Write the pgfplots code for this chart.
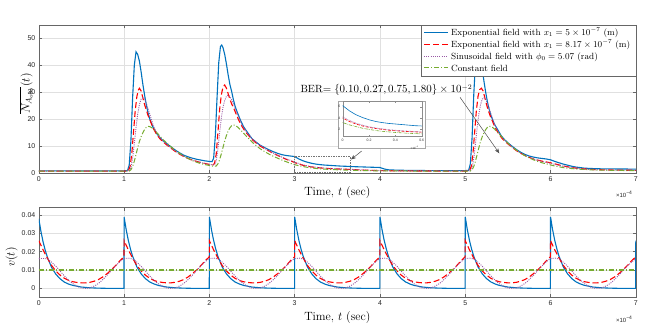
\documentclass[border=0pt]{standalone}
\usepackage{pgfplots}
\pgfplotsset{compat=1.18}
\usepackage{pgfplotstable}
\usepackage{fontspec}
\newfontfamily\tickfont{Liberation Sans}
\usetikzlibrary{arrows.meta}
\definecolor{mblue}{rgb}{0,0.447,0.741}
\definecolor{mpurple}{rgb}{0.494,0.184,0.556}
\definecolor{mgreen}{rgb}{0.466,0.674,0.188}

\pgfplotstableread{
t y
0 0.9
0.5 0.9
1.00 0.9
1.04 1.0
1.06 3
1.08 12
1.10 28
1.12 40
1.14 45
1.16 44
1.18 41.5
1.20 37.5
1.22 33
1.24 29
1.26 25.5
1.28 22.5
1.30 20.2
1.34 17
1.38 14.8
1.42 13.2
1.46 12
1.50 11
1.55 9.8
1.60 8.6
1.65 7.6
1.70 6.7
1.75 6.1
1.80 5.6
1.85 5.2
1.90 4.9
1.95 4.6
2.00 4.4
2.03 4.3
2.05 5.5
2.07 14
2.09 28
2.11 41
2.13 47
2.145 47.5
2.16 46.5
2.18 44
2.20 40.5
2.22 36.5
2.24 33
2.26 30.5
2.28 27.5
2.30 25
2.32 23.2
2.36 20
2.40 17.3
2.45 15
2.50 12.8
2.55 11.5
2.60 10.3
2.65 9.5
2.70 8.7
2.75 8
2.80 7.4
2.85 6.9
2.90 6.6
2.95 6.4
3.00 6.2
3.05 5.3
3.10 4.6
3.15 4.1
3.20 3.7
3.25 3.4
3.30 3.2
3.35 3.05
3.40 2.95
3.45 2.85
3.50 2.75
3.55 2.65
3.60 2.6
3.70 2.45
3.80 2.35
3.90 2.25
4.00 2.15
4.05 1.6
4.10 1.3
4.20 1.15
4.40 1.05
4.60 1.0
5.00 1.0
5.04 1.1
5.06 3.5
5.08 13
5.10 29
5.12 41
5.14 46
5.16 45
5.18 42
5.20 38.5
5.22 34
5.24 30
5.26 26.5
5.28 23.8
5.30 21.5
5.34 18.3
5.38 16.2
5.42 14
5.46 12.5
5.50 11.3
5.55 10
5.60 8.8
5.65 7.8
5.70 7.0
5.75 6.4
5.80 6.0
5.85 5.7
5.90 5.5
5.95 5.3
6.00 5.0
6.05 4.4
6.10 3.9
6.15 3.4
6.20 3.0
6.25 2.6
6.30 2.3
6.40 1.9
6.50 1.75
6.60 1.65
6.80 1.6
7.00 1.55
}\tB

\pgfplotstableread{
t y
0 0.8
1.00 0.8
1.05 0.9
1.07 2.5
1.09 7
1.11 15
1.13 23
1.15 28.5
1.17 31
1.18 31.5
1.20 30.5
1.22 28
1.24 25.5
1.26 23.5
1.28 21.5
1.30 20
1.34 16.8
1.38 14.5
1.42 12.8
1.46 11.6
1.50 10.5
1.55 9.3
1.60 8.1
1.65 7.1
1.70 6.2
1.75 5.5
1.80 4.9
1.85 4.4
1.90 4.0
1.95 3.6
2.00 3.3
2.04 3.1
2.06 3.6
2.08 7
2.10 15
2.12 23.5
2.14 29
2.16 32
2.18 32.7
2.20 31.5
2.22 29.5
2.24 27.5
2.26 25.8
2.28 24.5
2.30 23
2.34 20
2.38 17.5
2.42 15.5
2.46 14
2.50 12.5
2.55 11.2
2.60 10
2.65 9.1
2.70 8.2
2.75 7.4
2.80 6.6
2.85 5.9
2.90 5.2
2.95 4.6
3.00 4.0
3.05 3.4
3.10 2.95
3.15 2.6
3.20 2.35
3.25 2.15
3.30 2.0
3.35 1.85
3.40 1.75
3.45 1.68
3.50 1.6
3.55 1.55
3.60 1.5
3.70 1.35
3.80 1.2
3.90 1.1
4.00 1.0
4.20 0.9
4.50 0.85
5.00 0.8
5.05 0.9
5.07 2.5
5.09 7
5.11 15
5.13 23
5.15 28.5
5.17 31
5.19 31.5
5.21 30.5
5.23 28
5.25 25.5
5.27 23.3
5.29 21.5
5.31 20
5.35 17
5.39 14.7
5.43 13
5.47 11.7
5.50 10.9
5.55 9.6
5.60 8.4
5.65 7.4
5.70 6.6
5.75 5.9
5.80 5.3
5.85 4.9
5.90 4.5
5.95 4.2
6.00 3.9
6.05 3.5
6.10 3.1
6.15 2.7
6.20 2.4
6.30 1.9
6.40 1.6
6.50 1.4
6.60 1.3
6.80 1.15
7.00 1.1
}\tR

\pgfplotstableread{
t y
0 0.85
1.00 0.85
1.06 0.9
1.08 2
1.10 5.5
1.12 11
1.14 17
1.16 22
1.18 25.5
1.20 27.5
1.22 28
1.24 27.5
1.26 26
1.28 24
1.30 22
1.34 18
1.38 15.2
1.42 13.2
1.46 11.8
1.50 10.7
1.55 9.4
1.60 8.2
1.65 7.2
1.70 6.3
1.75 5.5
1.80 4.9
1.85 4.4
1.90 4.0
1.95 3.6
2.00 3.3
2.06 3.1
2.08 4.5
2.10 9
2.12 15
2.14 20.5
2.16 24.5
2.18 27
2.20 28.5
2.22 29
2.24 28.5
2.26 27.3
2.28 25.8
2.30 24.2
2.34 21
2.38 18.2
2.42 16
2.46 14.3
2.50 12.8
2.55 11.4
2.60 10.2
2.65 9.2
2.70 8.3
2.75 7.5
2.80 6.7
2.85 6.0
2.90 5.4
2.95 4.8
3.00 4.2
3.05 3.6
3.10 3.1
3.15 2.75
3.20 2.45
3.25 2.25
3.30 2.1
3.35 1.95
3.40 1.85
3.45 1.75
3.50 1.68
3.55 1.62
3.60 1.55
3.70 1.4
3.80 1.25
3.90 1.12
4.00 1.02
4.20 0.92
4.50 0.88
5.00 0.85
5.06 0.9
5.08 2
5.10 5.5
5.12 11
5.14 17
5.16 22
5.18 25.5
5.20 27.5
5.22 28
5.24 27.5
5.26 26
5.28 24
5.30 22.2
5.34 18.5
5.38 15.8
5.42 13.8
5.46 12.3
5.50 11.1
5.55 9.7
5.60 8.5
5.65 7.5
5.70 6.6
5.75 5.9
5.80 5.3
5.85 4.8
5.90 4.4
5.95 4.05
6.00 3.7
6.05 3.3
6.10 2.9
6.15 2.6
6.20 2.3
6.30 1.85
6.40 1.55
6.50 1.38
6.60 1.28
6.80 1.15
7.00 1.1
}\tP

\pgfplotstableread{
t y
0 0.8
1.00 0.8
1.06 0.85
1.08 1.3
1.10 2.5
1.12 4.5
1.14 7
1.16 9.5
1.18 11.8
1.20 13.6
1.22 15
1.24 16.2
1.26 17
1.28 17.4
1.30 17.3
1.32 17
1.34 16.5
1.38 15.2
1.42 13.8
1.46 12.4
1.50 11.2
1.55 9.8
1.60 8.5
1.65 7.4
1.70 6.4
1.75 5.5
1.80 4.7
1.85 4.1
1.90 3.6
1.95 3.2
2.00 2.9
2.05 2.6
2.08 2.7
2.10 3.5
2.12 5
2.14 7.2
2.16 9.6
2.18 12
2.20 14
2.22 15.6
2.24 16.8
2.26 17.6
2.28 17.9
2.30 17.8
2.32 17.4
2.34 16.9
2.38 15.6
2.42 14.2
2.46 12.9
2.50 11.6
2.55 10.2
2.60 9.0
2.65 8.0
2.70 7.1
2.75 6.3
2.80 5.6
2.85 4.9
2.90 4.3
2.95 3.7
3.00 3.2
3.05 2.8
3.10 2.5
3.15 2.2
3.20 2.0
3.25 1.8
3.30 1.65
3.35 1.55
3.40 1.45
3.45 1.38
3.50 1.3
3.55 1.25
3.60 1.2
3.70 1.1
3.80 1.0
3.90 0.95
4.00 0.9
4.50 0.82
5.00 0.8
5.06 0.85
5.08 1.3
5.10 2.5
5.12 4.5
5.14 7
5.16 9.5
5.18 11.8
5.20 13.6
5.22 15
5.24 16.2
5.26 17
5.28 17.4
5.30 17.3
5.32 17
5.34 16.5
5.38 15.2
5.42 13.8
5.46 12.4
5.50 11.2
5.55 9.8
5.60 8.6
5.65 7.5
5.70 6.5
5.75 5.7
5.80 5.0
5.85 4.4
5.90 3.9
5.95 3.5
6.00 3.1
6.05 2.7
6.10 2.4
6.15 2.1
6.20 1.9
6.30 1.6
6.40 1.4
6.50 1.25
6.60 1.15
6.80 1.05
7.00 1.0
}\tG

\pgfplotstableread{
t v
0 0.038
0.025 0.0311
0.05 0.0254
0.075 0.0208
0.1 0.0171
0.15 0.0114
0.2 0.0077
0.25 0.0052
0.3 0.0034
0.35 0.0023
0.4 0.0016
0.5 0.0007
0.6 0.0003
0.7 0.0001
0.8 0
0.999 0
1 0.039
1.025 0.0319
1.05 0.0261
1.075 0.0214
1.1 0.0175
1.15 0.0117
1.2 0.0079
1.25 0.0053
1.3 0.0035
1.35 0.0024
1.4 0.0016
1.5 0.0007
1.6 0.0003
1.7 0.0001
1.8 0
1.999 0
2 0.039
2.025 0.0319
2.05 0.0261
2.075 0.0214
2.1 0.0175
2.15 0.0117
2.2 0.0079
2.25 0.0053
2.3 0.0035
2.35 0.0024
2.4 0.0016
2.5 0.0007
2.6 0.0003
2.7 0.0001
2.8 0
2.999 0
3 0.039
3.025 0.0319
3.05 0.0261
3.075 0.0214
3.1 0.0175
3.15 0.0117
3.2 0.0079
3.25 0.0053
3.3 0.0035
3.35 0.0024
3.4 0.0016
3.5 0.0007
3.6 0.0003
3.7 0.0001
3.8 0
3.999 0
4 0.039
4.025 0.0319
4.05 0.0261
4.075 0.0214
4.1 0.0175
4.15 0.0117
4.2 0.0079
4.25 0.0053
4.3 0.0035
4.35 0.0024
4.4 0.0016
4.5 0.0007
4.6 0.0003
4.7 0.0001
4.8 0
4.999 0
5 0.039
5.025 0.0319
5.05 0.0261
5.075 0.0214
5.1 0.0175
5.15 0.0117
5.2 0.0079
5.25 0.0053
5.3 0.0035
5.35 0.0024
5.4 0.0016
5.5 0.0007
5.6 0.0003
5.7 0.0001
5.8 0
5.999 0
6 0.039
6.025 0.0319
6.05 0.0261
6.075 0.0214
6.1 0.0175
6.15 0.0117
6.2 0.0079
6.25 0.0053
6.3 0.0035
6.35 0.0024
6.4 0.0016
6.5 0.0007
6.6 0.0003
6.7 0.0001
6.8 0
6.999 0
7 0.026
}\lB

\pgfplotstableread{
t v
0 0.026
0.05 0.021
0.1 0.0165
0.15 0.0125
0.2 0.0095
0.25 0.0072
0.3 0.0055
0.35 0.0043
0.4 0.0036
0.45 0.0032
0.5 0.003
0.55 0.003
0.6 0.0033
0.65 0.0039
0.7 0.0048
0.75 0.0062
0.8 0.008
0.85 0.01
0.9 0.0124
0.95 0.015
0.999 0.0172
1 0.026
1.05 0.021
1.1 0.0165
1.15 0.0125
1.2 0.0095
1.25 0.0072
1.3 0.0055
1.35 0.0043
1.4 0.0036
1.45 0.0032
1.5 0.003
1.55 0.003
1.6 0.0033
1.65 0.0039
1.7 0.0048
1.75 0.0062
1.8 0.008
1.85 0.01
1.9 0.0124
1.95 0.015
1.999 0.0172
2 0.026
2.05 0.021
2.1 0.0165
2.15 0.0125
2.2 0.0095
2.25 0.0072
2.3 0.0055
2.35 0.0043
2.4 0.0036
2.45 0.0032
2.5 0.003
2.55 0.003
2.6 0.0033
2.65 0.0039
2.7 0.0048
2.75 0.0062
2.8 0.008
2.85 0.01
2.9 0.0124
2.95 0.015
2.999 0.0172
3 0.026
3.05 0.021
3.1 0.0165
3.15 0.0125
3.2 0.0095
3.25 0.0072
3.3 0.0055
3.35 0.0043
3.4 0.0036
3.45 0.0032
3.5 0.003
3.55 0.003
3.6 0.0033
3.65 0.0039
3.7 0.0048
3.75 0.0062
3.8 0.008
3.85 0.01
3.9 0.0124
3.95 0.015
3.999 0.0172
4 0.026
4.05 0.021
4.1 0.0165
4.15 0.0125
4.2 0.0095
4.25 0.0072
4.3 0.0055
4.35 0.0043
4.4 0.0036
4.45 0.0032
4.5 0.003
4.55 0.003
4.6 0.0033
4.65 0.0039
4.7 0.0048
4.75 0.0062
4.8 0.008
4.85 0.01
4.9 0.0124
4.95 0.015
4.999 0.0172
5 0.026
5.05 0.021
5.1 0.0165
5.15 0.0125
5.2 0.0095
5.25 0.0072
5.3 0.0055
5.35 0.0043
5.4 0.0036
5.45 0.0032
5.5 0.003
5.55 0.003
5.6 0.0033
5.65 0.0039
5.7 0.0048
5.75 0.0062
5.8 0.008
5.85 0.01
5.9 0.0124
5.95 0.015
5.999 0.0172
6 0.026
6.05 0.021
6.1 0.0165
6.15 0.0125
6.2 0.0095
6.25 0.0072
6.3 0.0055
6.35 0.0043
6.4 0.0036
6.45 0.0032
6.5 0.003
6.55 0.003
6.6 0.0033
6.65 0.0039
6.7 0.0048
6.75 0.0062
6.8 0.008
6.85 0.01
6.9 0.0124
6.95 0.015
7 0.0172
}\lR

\pgfplotstableread{
t v
0 0.0162
0.1 0.0160
0.2 0.0120
0.3 0.0068
0.4 0.0025
0.5 0.0002
0.6 0.0003
0.7 0.0027
0.8 0.0071
0.9 0.0122
1.0 0.0162
1.1 0.0160
1.2 0.0120
1.3 0.0068
1.4 0.0025
1.5 0.0002
1.6 0.0003
1.7 0.0027
1.8 0.0071
1.9 0.0122
2.0 0.0162
2.1 0.0160
2.2 0.0120
2.3 0.0068
2.4 0.0025
2.5 0.0002
2.6 0.0003
2.7 0.0027
2.8 0.0071
2.9 0.0122
3.0 0.0162
3.1 0.0160
3.2 0.0120
3.3 0.0068
3.4 0.0025
3.5 0.0002
3.6 0.0003
3.7 0.0027
3.8 0.0071
3.9 0.0122
4.0 0.0162
4.1 0.0160
4.2 0.0120
4.3 0.0068
4.4 0.0025
4.5 0.0002
4.6 0.0003
4.7 0.0027
4.8 0.0071
4.9 0.0122
5.0 0.0162
5.1 0.0160
5.2 0.0120
5.3 0.0068
5.4 0.0025
5.5 0.0002
5.6 0.0003
5.7 0.0027
5.8 0.0071
5.9 0.0122
6.0 0.0162
6.1 0.0160
6.2 0.0120
6.3 0.0068
6.4 0.0025
6.5 0.0002
6.6 0.0003
6.7 0.0027
6.8 0.0071
6.9 0.0122
7.0 0.0162
}\lP

\pgfplotstableread{
t v
0 0.01
7 0.01
}\lG

\tikzset{
  pB/.style={color=mblue, line width=1.1bp, solid},
  pR/.style={color=red, line width=1.1bp, dash pattern=on 6bp off 3bp},
  pP/.style={color=mpurple!80, line width=0.9bp, dash pattern=on 1bp off 1.2bp},
  pG/.style={color=mgreen, line width=1bp, dash pattern=on 5bp off 2bp on 1bp off 2bp},
  legtext/.style={anchor=base west, font=\fontsize{9}{10}\selectfont, inner sep=0pt},
}
\pgfplotsset{
  mybase/.style={
    scale only axis, anchor=south west,
    tick align=inside, major tick length=3bp,
    scaled x ticks=false, scaled y ticks=false,
    axis line style={black!60, line width=0.5bp},
    every tick/.style={black!60, line width=0.5bp},
    ticklabel style={font=\tickfont\fontsize{7}{8}\selectfont, text=black!85},
  },
  mystyle/.style={
    mybase, width=597bp, xmin=0, xmax=7,
    xtick={0,1,2,3,4,5,6,7}, xticklabels={0,1,2,3,4,5,6,7},
    grid=major, major grid style={black!12, line width=0.4bp},
    label style={font=\fontsize{12}{14}\selectfont},
  },
}

\begin{document}
\begin{tikzpicture}
% ---------------- top axis ----------------
\begin{axis}[mystyle, at={(38.8bp,160.7bp)}, height=148.5bp,
  ymin=0, ymax=55, ytick={0,10,20,30,40,50}, yticklabels={0,10,20,30,40,50},
  xlabel={Time, $t$ (sec)}, ylabel={$\overline{N_{A_{obs}}}(t)$},
  xlabel style={at={(axis description cs:0.5,-0.129)}, anchor=center},
  ylabel style={at={(axis description cs:-0.0214,0.537)}, anchor=center},
]
\addplot[pB] table[x=t,y=y]{\tB};
\addplot[pR] table[x=t,y=y]{\tR};
\addplot[pP] table[x=t,y=y]{\tP};
\addplot[pG] table[x=t,y=y]{\tG};
\draw[black!55, line width=0.5bp, dash pattern=on 1.5bp off 1bp] (axis cs:3,0.25) rectangle (axis cs:3.65,6.3);
\end{axis}
% legend (box, sample lines, text)
\draw[fill=white, draw=black!60, line width=0.5bp] (421.7bp,258bp) rectangle (636.3bp,309.2bp);
\draw[pB] (424bp,301.7bp) -- (448bp,301.7bp);
\draw[pR] (424bp,289.8bp) -- (448bp,289.8bp);
\draw[pP] (424bp,277.9bp) -- (448bp,277.9bp);
\draw[pG] (424bp,266bp) -- (448bp,266bp);
\node[legtext] at (451bp,298.6bp) {Exponential field with $x_1=5\times10^{-7}$ (m)};
\node[legtext] at (451bp,286.7bp) {Exponential field with $x_1=8.17\times10^{-7}$ (m)};
\node[legtext] at (451bp,274.8bp) {Sinusoidal field with $\phi_0=5.07$ (rad)};
\node[legtext] at (451bp,262.9bp) {Constant field};

\node[anchor=north east, font=\tickfont\fontsize{6}{7}\selectfont, text=black!85] at (636bp,146bp) {×10\textsuperscript{−4}};
\node[anchor=base west, font=\fontsize{10.5}{12}\selectfont] at (297bp,241bp) {BER$=\{0.10, 0.27, 0.75, 1.80\}\times10^{-2}$};
\draw[black!70, line width=0.5bp, -{Stealth[length=5bp,width=4bp]}] (460bp,236.7bp) -- (499.3bp,180.7bp);
\draw[black!70, line width=0.5bp, -{Stealth[length=5bp,width=4bp]}] (361.7bp,183bp) -- (351bp,174.5bp);

% ---------------- inset ----------------
\draw[fill=white, draw=black!35, line width=0.5bp] (338bp,185.5bp) rectangle (425bp,233bp);
\begin{axis}[mybase, at={(342.7bp,197.3bp)}, width=79bp, height=35bp,
  xmin=3, xmax=3.6, ymin=0.7, ymax=6.9,
  xtick={3,3.2,3.4,3.6}, xticklabels={0,0.2,0.4,0.6},
  ytick={2,4,6}, yticklabels={2,4,6},
  major tick length=1.5bp,
  axis line style={black!45, line width=0.4bp},
  every tick/.style={black!45, line width=0.4bp},
  ticklabel style={font=\tickfont\fontsize{3.5}{4}\selectfont, text=black!80},
  xticklabel style={yshift=1bp}, yticklabel style={xshift=1bp},
]
\addplot[color=mblue, line width=0.6bp] table[x=t,y=y]{\tB};
\addplot[color=red, line width=0.6bp, dash pattern=on 3bp off 1.5bp] table[x=t,y=y]{\tR};
\addplot[color=mpurple!80, line width=0.6bp, dash pattern=on 0.6bp off 0.8bp] table[x=t,y=y]{\tP};
\addplot[color=mgreen, line width=0.6bp, dash pattern=on 3bp off 1bp on 0.6bp off 1bp] table[x=t,y=y]{\tG};
\end{axis}
\node[anchor=north east, font=\tickfont\fontsize{3}{3.5}\selectfont, text=black!80] at (422bp,191.5bp) {×10\textsuperscript{−4}};

% ---------------- bottom axis ----------------
\begin{axis}[mystyle, at={(38.8bp,36.5bp)}, height=89.8bp,
  ymin=-0.005, ymax=0.044, ytick={0,0.01,0.02,0.03,0.04}, yticklabels={0,0.01,0.02,0.03,0.04},
  xlabel={Time, $t$ (sec)}, ylabel={$v(t)$},
  xlabel style={at={(axis description cs:0.5,-0.223)}, anchor=center},
  ylabel style={at={(axis description cs:-0.0457,0.45)}, anchor=center},
]
\addplot[pB] table[x=t,y=v]{\lB};
\addplot[pR] table[x=t,y=v]{\lR};
\addplot[pP, smooth] table[x=t,y=v]{\lP};
\addplot[pG, line width=1.3bp] table[x=t,y=v]{\lG};
\end{axis}
\node[anchor=north east, font=\tickfont\fontsize{6}{7}\selectfont, text=black!85] at (636bp,21bp) {×10\textsuperscript{−4}};

\pgfresetboundingbox
\path[use as bounding box] (0,0) rectangle (646bp,334bp);
\end{tikzpicture}
\end{document}
